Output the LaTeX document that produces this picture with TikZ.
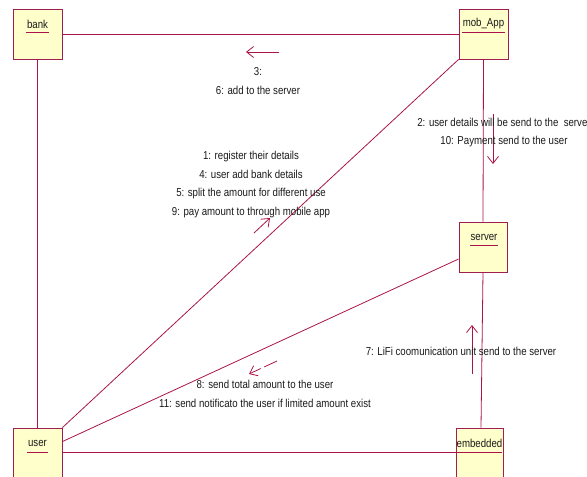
\documentclass[tikz,border=0pt]{standalone}
\usepackage{fontspec}
\setmainfont[FakeStretch=0.84]{Liberation Sans}
\usetikzlibrary{arrows.meta}
\definecolor{lnk}{RGB}{170,20,75}
\definecolor{boxedge}{RGB}{160,30,80}
\definecolor{boxfill}{RGB}{255,255,204}
\tikzset{
  obj/.style={draw=boxedge, fill=boxfill, line width=0.9pt, inner sep=0pt, rectangle},
  lbl/.style={inner sep=0pt, font=\fontsize{11.5}{13}\selectfont, text=black!90},
  ul/.style={draw=lnk, line width=0.9pt},
  link/.style={draw=lnk, line width=0.8pt},
  msg/.style={draw=lnk, line width=0.8pt, -{Straight Barb[length=7pt,width=11pt]}},
  msgtxt/.style={inner sep=0pt, align=center, font=\fontsize{11.5}{18.5}\selectfont, text=black!90},
}
\begin{document}
\begin{tikzpicture}[x=1pt,y=-1pt]
\useasboundingbox (0,0) rectangle (587,477);
\clip (0,0) rectangle (587,477);
% objects
\node[obj, minimum width=49pt, minimum height=50pt] (bank) at (37.5,34) {};
\node[obj, minimum width=49pt, minimum height=50pt] (mob) at (483.5,34) {};
\node[obj, minimum width=48pt, minimum height=50pt] (server) at (483,247) {};
\node[obj, minimum width=49pt, minimum height=60pt] (user) at (37.5,458) {};
\node[obj, minimum width=47pt, minimum height=60pt] (emb) at (479.5,458) {};
% labels
\node[lbl] (bankl) at (37.5,24) {bank};
\draw[ul] (26,32) -- (49,32);
\node[lbl] (mobl) at (483.5,24) {mob\_App};
\draw[ul] (462,32) -- (505,32);
\node[lbl] (serverl) at (484,237) {server};
\draw[ul] (470,245) -- (498,245);
\node[lbl] (userl) at (37.5,443) {user};
\draw[ul] (27,452) -- (48,452);
\node[lbl] (embl) at (479.5,443) {embedded};
\draw[ul] (457,452) -- (502,452);
% links
\draw[link] (bank.east) -- (mob.west);
\draw[link] (bank.south) -- (user.north);
\draw[link] (mob.south) -- (server.north);
\draw[link] (server.south) -- ([xshift=1.5pt]emb.north);
\draw[link] (mob.south west) -- (user.north east);
\coordinate (sU) at ([yshift=-12pt]server.west);
\coordinate (uS) at ([yshift=-14pt]user.north east);
\draw[link] (sU) -- (uS);
\coordinate (uE) at ([yshift=-25pt]user.north east);
\coordinate (eU) at ([yshift=-25pt]emb.north west);
\draw[link] (uE) -- (eU);
% messages
\coordinate (m1a) at (279,52); \coordinate (m1b) at (246,52);
\draw[msg] (m1a) -- (m1b);
\node[msgtxt] (t1) at (258,81) {3:\\6: add to the server};
\coordinate (m2a) at (493,114); \coordinate (m2b) at (493,164);
\draw[msg] (m2a) -- (m2b);
\node[msgtxt] (t2) at (504,132.5) {2: user details will be send to the \ server\\10: Payment send to the user};
\coordinate (m3a) at (254,233); \coordinate (m3b) at (270,218);
\draw[msg] (m3a) -- (m3b);
\node[msgtxt] (t3) at (251,184.5) {1: register their details\\4: user add bank details\\5: split the amount for different use\\9: pay amount to through mobile app};
\coordinate (m4a) at (472,374); \coordinate (m4b) at (472,325);
\draw[msg] (m4a) -- (m4b);
\node[msgtxt] (t4) at (461,351) {7: LiFi coomunication unit send to the server};
\coordinate (m5a) at (277,361); \coordinate (m5b) at (249,374);
\draw[msg, dash pattern=on 14pt off 4pt on 30pt] (m5a) -- (m5b);
\node[msgtxt] (t5) at (265,394) {8: send total amount to the user\\11: send notificato the user if limited amount exist};
\end{tikzpicture}
\end{document}
